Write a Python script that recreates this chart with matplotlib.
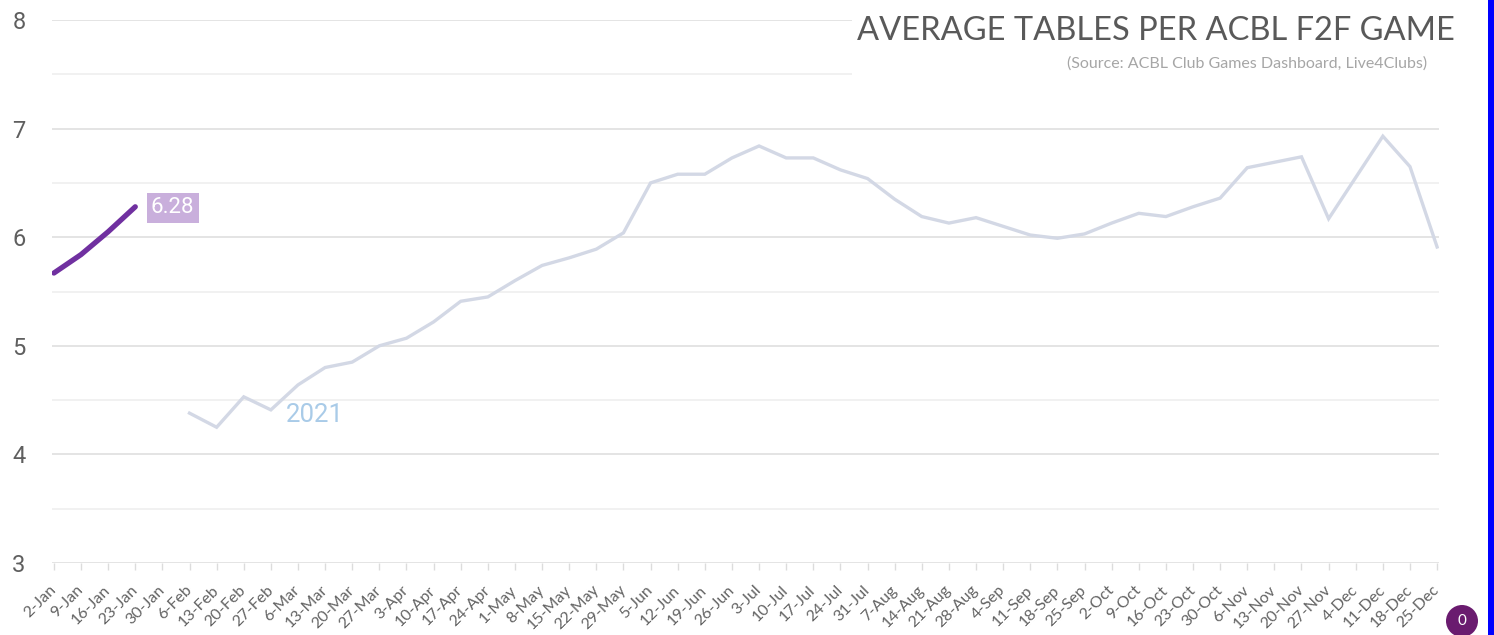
import matplotlib
matplotlib.use('Agg')
import matplotlib.pyplot as plt
from matplotlib.patches import Rectangle, Circle
import numpy as np

weeks = ['2-Jan', '9-Jan', '16-Jan', '23-Jan', '30-Jan', '6-Feb', '13-Feb', '20-Feb', '27-Feb',
         '6-Mar', '13-Mar', '20-Mar', '27-Mar', '3-Apr', '10-Apr', '17-Apr', '24-Apr',
         '1-May', '8-May', '15-May', '22-May', '29-May', '5-Jun', '12-Jun', '19-Jun', '26-Jun',
         '3-Jul', '10-Jul', '17-Jul', '24-Jul', '31-Jul', '7-Aug', '14-Aug', '21-Aug', '28-Aug',
         '4-Sep', '11-Sep', '18-Sep', '25-Sep', '2-Oct', '9-Oct', '16-Oct', '23-Oct', '30-Oct',
         '6-Nov', '13-Nov', '20-Nov', '27-Nov', '4-Dec', '11-Dec', '18-Dec', '25-Dec']

vals_2021 = [np.nan] * 5 + [
    4.38, 4.25, 4.53, 4.41, 4.64, 4.80, 4.85, 5.00, 5.07, 5.22, 5.41, 5.45, 5.60, 5.74,
    5.81, 5.89, 6.04, 6.50, 6.58, 6.58, 6.73, 6.84, 6.73, 6.73, 6.62, 6.54, 6.35, 6.19,
    6.13, 6.18, 6.10, 6.02, 5.99, 6.03, 6.13, 6.22, 6.19, 6.28, 6.36, 6.64, 6.69, 6.74,
    6.17, 6.55, 6.93, 6.65, 5.91]

vals_2022 = [5.67, 5.84, 6.05, 6.28]

yticks = [3, 4, 5, 6, 7, 8]
title = 'AVERAGE TABLES PER ACBL F2F GAME'
subtitle = '(Source: ACBL Club Games Dashboard, Live4Clubs)'

W, H = 1494, 635
fig = plt.figure(figsize=(W / 100, H / 100), dpi=100)
fig.patch.set_facecolor('white')
ax = fig.add_axes([52 / W, 1 - 563 / H, (1439 - 52) / W, (563 - 20) / H])

x = np.arange(len(weeks))

# gridlines
for v in np.arange(3, 8.01, 0.5):
    major = float(v).is_integer()
    ax.axhline(v, color='#e2e2e2' if major else '#f0f0f0', lw=1.3, zorder=1)

ax.plot(x, vals_2021, color='#d3d8e5', lw=2.4, zorder=3, solid_joinstyle='miter')
ax.plot(x[:len(vals_2022)], vals_2022, color='#7030a0', lw=3.8, zorder=4,
        solid_capstyle='round', solid_joinstyle='round')

ax.text(3.58, vals_2022[-1] - 0.01, f'{vals_2022[-1]:.2f}', color='white', fontsize=16,
        family='Roboto', ha='left', va='center', zorder=6,
        bbox=dict(boxstyle='square,pad=0.2', fc='#c9afdc', ec='none'))
ax.text(9.62, 4.36, '2021', color='#a9cbe8', fontsize=18.5, family='Roboto',
        ha='center', va='center', zorder=6)

ax.set_xlim(-0.07, len(weeks) - 1 + 0.07)
ax.set_ylim(3, 8.0)
ax.set_yticks(yticks)
ax.set_yticklabels([str(t) for t in yticks], family='Roboto', fontsize=17, color='#5f5f5f')
ax.tick_params(axis='y', length=0, pad=19)
ax.set_xticks(x)
ax.set_xticklabels(weeks, rotation=45, ha='right', rotation_mode='anchor',
                   family='Lato', fontsize=11.5, color='#636363')
ax.tick_params(axis='x', length=5, width=1, color='#dcdcdc', pad=13)
for lab in ax.get_xticklabels():
    lab.set_va('center')
for s in ax.spines.values():
    s.set_visible(False)

# title box covering upper gridlines
ax.add_patch(Rectangle((852 / W, 1 - 100 / H), (1489 - 852) / W, 100 / H,
                       transform=fig.transFigure, fc='white', ec='none', zorder=8,
                       clip_on=False))
fig.text(1455 / W, 1 - 31 / H, title, ha='right', va='center', family='Lato',
         fontsize=23.5, color='#595959', zorder=9)
fig.text(1427 / W, 1 - 64 / H, subtitle, ha='right', va='center', family='Lato',
         fontsize=11.5, color='#a6a6a6', zorder=9)

# right blue strip
fig.add_artist(Rectangle((1488 / W, 0), 6 / W, 1, transform=fig.transFigure,
                         fc='#0000ff', ec='none', zorder=10))
# purple badge
fig.add_artist(Circle((1462, H - 621), 16, transform=None, fc='#6a1b6f', ec='none', zorder=10))
fig.text(1462 / W, 1 - 621 / H, '0', ha='center', va='center', color='white',
         fontsize=11, family='Lato', zorder=11)

fig.savefig('out.png', dpi=100, facecolor='white')
